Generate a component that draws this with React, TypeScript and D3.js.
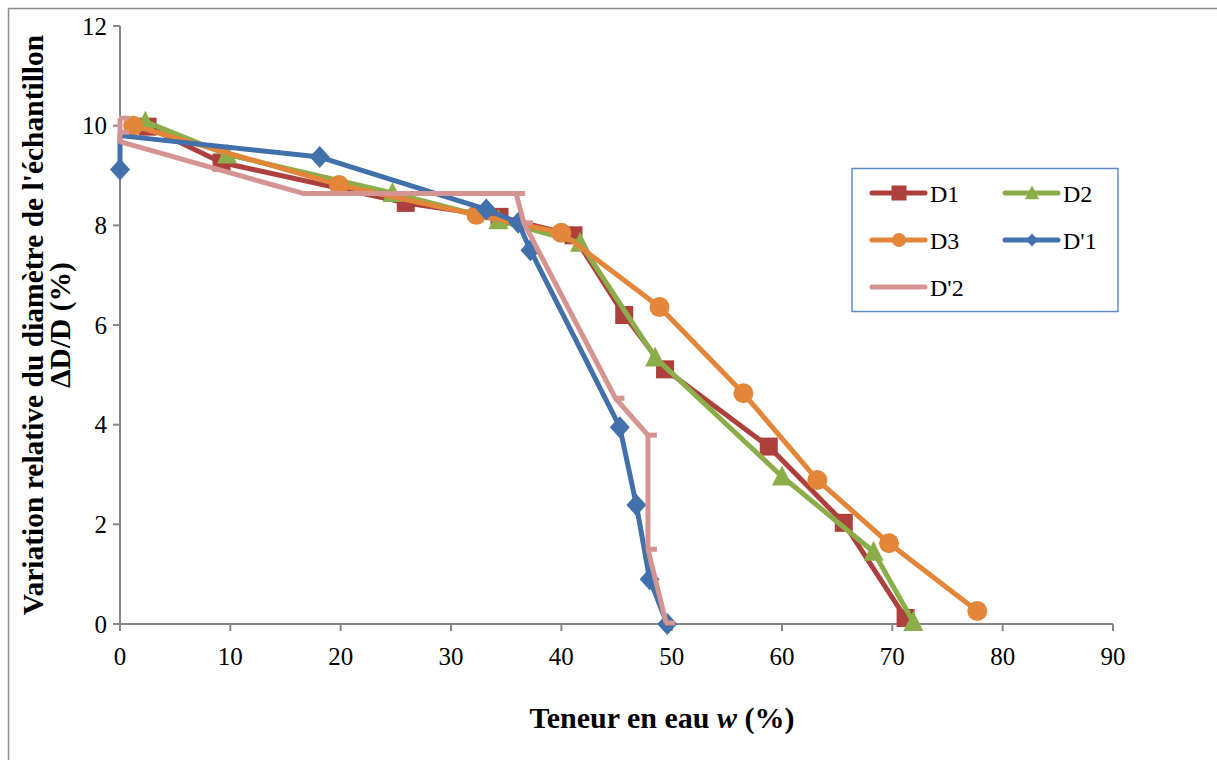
import React from 'react';
import * as d3 from 'd3';

// ---- data ----
const seriesNames = ['D1', 'D2', 'D3', "D'1", "D'2"];

const d1X = [2.5, 9.2, 25.9, 34.4, 41.1, 45.7, 49.4, 58.8, 65.6, 71.2];
const d1Y = [9.98, 9.26, 8.45, 8.17, 7.8, 6.2, 5.11, 3.56, 2.03, 0.12];

const d2X = [2.3, 9.7, 24.7, 34.3, 41.7, 48.5, 60.0, 68.3, 71.9];
const d2Y = [10.08, 9.42, 8.65, 8.1, 7.65, 5.35, 2.96, 1.45, 0.04];

const d3X = [1.2, 19.85, 32.3, 40.0, 48.9, 56.5, 63.2, 69.7, 77.7];
const d3Y = [10.0, 8.81, 8.21, 7.85, 6.36, 4.63, 2.89, 1.62, 0.26];

const dp1X = [0, 0, 18.1, 33.2, 36.1, 37.2, 45.3, 46.8, 48.0, 49.6];
const dp1Y = [9.12, 9.8, 9.37, 8.32, 8.05, 7.5, 3.95, 2.39, 0.9, 0.0];
const dp1Marker = [true, false, true, true, true, true, true, true, true, true];

const dp2X = [0, 0, 0, 16.6, 35.9, 36.6, 44.9, 47.85, 47.85, 49.5];
const dp2Y = [10.15, 9.87, 9.68, 8.64, 8.64, 8.05, 4.53, 3.79, 1.5, 0.02];
const dp2Dash = [true, true, false, false, true, true, true, true, true, true];

const xTicks = [0, 10, 20, 30, 40, 50, 60, 70, 80, 90];
const yTicks = [0, 2, 4, 6, 8, 10, 12];

const xTitle = 'Teneur en eau ';
const yTitle1 = "Variation relative du diamètre de l'échantillon";
const yTitle2 = 'ΔD/D (%)';

const colors = {
  d1: '#AD403D',
  d2: '#8BAE4A',
  d3: '#E3863A',
  dp1: '#4170AB',
  dp2: '#D59391',
};

const FONT = "'Liberation Serif', 'Times New Roman', serif";

type Pt = { x: number; y: number; m: boolean };

function zip(xs: number[], ys: number[], flags?: boolean[]): Pt[] {
  return xs.map((x, i) => ({ x, y: ys[i], m: flags ? flags[i] : true }));
}

function Marker({ kind, cx, cy, size, color }: { kind: string; cx: number; cy: number; size: number; color: string }) {
  const s = size;
  if (kind === 'square') {
    return <rect x={cx - s / 2} y={cy - s / 2} width={s} height={s} fill={color} />;
  }
  if (kind === 'circle') {
    return <circle cx={cx} cy={cy} r={s / 2} fill={color} />;
  }
  if (kind === 'triangle') {
    const p = d3.path();
    p.moveTo(cx, cy - s * 0.55);
    p.lineTo(cx + s * 0.5, cy + s * 0.45);
    p.lineTo(cx - s * 0.5, cy + s * 0.45);
    p.closePath();
    return <path d={p.toString()} fill={color} />;
  }
  if (kind === 'diamond') {
    const p = d3.path();
    p.moveTo(cx, cy - s * 0.55);
    p.lineTo(cx + s * 0.5, cy);
    p.lineTo(cx, cy + s * 0.55);
    p.lineTo(cx - s * 0.5, cy);
    p.closePath();
    return <path d={p.toString()} fill={color} />;
  }
  if (kind === 'dash') {
    return <rect x={cx - 1} y={cy - 2.5} width={10} height={5} fill={color} />;
  }
  return null;
}

export default function App() {
  const W = 1217;
  const H = 760;
  const x = d3.scaleLinear().domain([0, 90]).range([120, 1113]);
  const y = d3.scaleLinear().domain([0, 12]).range([624, 26]);

  const line = d3
    .line<Pt>()
    .x((d) => x(d.x))
    .y((d) => y(d.y));

  const series = [
    { name: seriesNames[0], pts: zip(d1X, d1Y), color: colors.d1, kind: 'square', size: 18 },
    { name: seriesNames[1], pts: zip(d2X, d2Y), color: colors.d2, kind: 'triangle', size: 20 },
    { name: seriesNames[2], pts: zip(d3X, d3Y), color: colors.d3, kind: 'circle', size: 20 },
    { name: seriesNames[3], pts: zip(dp1X, dp1Y, dp1Marker), color: colors.dp1, kind: 'diamond', size: 20 },
    { name: seriesNames[4], pts: zip(dp2X, dp2Y, dp2Dash), color: colors.dp2, kind: 'dash', size: 10 },
  ];

  const legendItems = [
    { s: series[0], lx: 872, ly: 193, ms: 15 },
    { s: series[1], lx: 1005, ly: 193, ms: 14 },
    { s: series[2], lx: 872, ly: 240, ms: 14 },
    { s: series[3], lx: 1005, ly: 240, ms: 12 },
    { s: series[4], lx: 872, ly: 287, ms: 0 },
  ];

  return (
    <svg
      width={W}
      height={H}
      style={{ position: 'absolute', left: 0, top: 0, background: '#fff' }}
      fontFamily={FONT}
    >
      <rect x={0} y={0} width={W} height={H} fill="#fff" />
      {/* outer chart frame */}
      <rect x={8.5} y={8.5} width={W + 50} height={H + 50} fill="none" stroke="#8c8c8c" strokeWidth={1.5} />

      {/* axes */}
      <line x1={x(0)} x2={x(90)} y1={y(0)} y2={y(0)} stroke="#868686" strokeWidth={2} />
      <line x1={x(0)} x2={x(0)} y1={y(0)} y2={y(12)} stroke="#868686" strokeWidth={2} />
      {xTicks.map((t) => (
        <g key={'xt' + t}>
          <line x1={x(t)} x2={x(t)} y1={y(0)} y2={y(0) + 7} stroke="#868686" strokeWidth={2} />
          <text x={x(t)} y={665} textAnchor="middle" fontSize={25} fill="#000">
            {t}
          </text>
        </g>
      ))}
      {yTicks.map((t) => (
        <g key={'yt' + t}>
          <line x1={x(0) - 7} x2={x(0)} y1={y(t)} y2={y(t)} stroke="#868686" strokeWidth={2} />
          <text x={107} y={y(t) + 8.5} textAnchor="end" fontSize={25} fill="#000">
            {t}
          </text>
        </g>
      ))}

      {/* series */}
      {series.map((s) => (
        <g key={s.name}>
          <path d={line(s.pts) || ''} fill="none" stroke={s.color} strokeWidth={5} strokeLinejoin="round" />
          {s.pts
            .filter((p) => p.m)
            .map((p, i) => (
              <Marker key={i} kind={s.kind} cx={x(p.x)} cy={y(p.y)} size={s.size} color={s.color} />
            ))}
        </g>
      ))}

      {/* legend */}
      <rect x={852} y={168.5} width={266} height={143} fill="#fff" stroke="#5F8DC8" strokeWidth={1.5} />
      {legendItems.map((it) => (
        <g key={'lg' + it.s.name}>
          <line
            x1={it.lx}
            x2={it.lx + 53}
            y1={it.ly}
            y2={it.ly}
            stroke={it.s.color}
            strokeWidth={5}
            strokeLinecap="round"
          />
          {it.ms > 0 && (
            <Marker kind={it.s.kind} cx={it.lx + 27} cy={it.ly} size={it.ms} color={it.s.color} />
          )}
          <text x={it.lx + 58} y={it.ly + 8.5} fontSize={24} fill="#000">
            {it.s.name}
          </text>
        </g>
      ))}

      {/* axis titles */}
      <text x={662} y={728} textAnchor="middle" fontSize={30} fontWeight="bold" fill="#000">
        {xTitle}
        <tspan fontStyle="italic">w</tspan> (%)
      </text>
      <g transform={`translate(43, 325) rotate(-90)`}>
        <text x={0} y={0} textAnchor="middle" fontSize={29.5} fontWeight="bold" fill="#000">
          {yTitle1}
        </text>
        <text x={0} y={27} textAnchor="middle" fontSize={29.5} fontWeight="bold" fill="#000">
          {yTitle2}
        </text>
      </g>
    </svg>
  );
}
